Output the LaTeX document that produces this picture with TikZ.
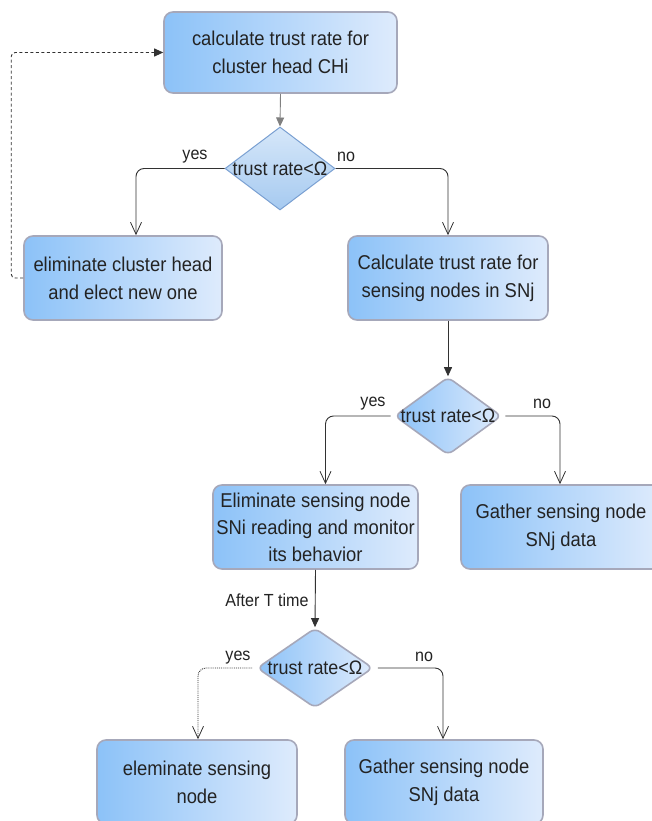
\documentclass[tikz,border=0pt]{standalone}
\usepackage{fontspec}
\setmainfont{Liberation Sans}[FakeStretch=0.92]
\usetikzlibrary{shapes.geometric,arrows.meta}

\definecolor{boxL}{RGB}{140,194,248}
\definecolor{boxR}{RGB}{222,235,252}
\definecolor{boxEdge}{RGB}{166,168,186}
\definecolor{dTop}{RGB}{214,231,249}
\definecolor{dBot}{RGB}{166,202,240}
\definecolor{dEdge}{RGB}{122,160,210}
\definecolor{lineC}{RGB}{50,50,50}
\definecolor{txtC}{RGB}{35,35,35}

\tikzset{
  stepbox/.style={rectangle, rounded corners=9pt, draw=boxEdge, line width=1.6pt,
    left color=boxL, right color=boxR, minimum width=199pt, minimum height=83pt,
    align=center, text=txtC, font=\fontsize{20}{28}\selectfont},
  decisionA/.style={diamond, draw=dEdge, line width=1pt, top color=dTop, bottom color=dBot,
    inner sep=0pt, minimum width=110pt, minimum height=83pt},
  decisionB/.style={diamond, rounded corners=6pt, draw=boxEdge, line width=1.6pt,
    left color=boxL, right color=boxR, inner sep=0pt},
  dtext/.style={text=txtC, font=\fontsize{19.5}{20}\selectfont},
  tag/.style={text=txtC, font=\fontsize{17.5}{18}\selectfont, inner sep=1pt},
  flow/.style={draw=lineC, line width=0.9pt},
  solidtip/.style={-{Triangle[length=9pt,width=8pt]}},
  opentip/.style={-{Straight Barb[length=12pt,width=11pt,line width=0.8pt]}, rounded corners=8pt},
}

\begin{document}
\begin{tikzpicture}[x=1pt,y=-1pt]
  \useasboundingbox (0,0) rectangle (652,821);
  \clip (0,0) rectangle (652,821);
  \fill[white] (0,0) rectangle (652,821);

  % process boxes
  \node[stepbox, minimum width=233pt, minimum height=81pt] (b1) at (280.5,52.5)
    {calculate trust rate for\\cluster head CHi};
  \node[stepbox, minimum width=198pt, minimum height=84pt] (b2) at (123,278)
    {eliminate cluster head\\and elect new one};
  \node[stepbox, minimum width=200pt, minimum height=84pt] (b3) at (448,278)
    {Calculate trust rate for\\sensing nodes in SNj};
  \node[stepbox, minimum height=84pt, font=\fontsize{20}{27}\selectfont] (b4) at (315.5,527)
    {Eliminate sensing node\\SNi reading and monitor\\its behavior};
  \node[stepbox, minimum width=200pt, minimum height=84pt] (b5) at (561,527)
    {Gather sensing node\\SNj data};
  \node[stepbox, minimum width=200pt, minimum height=84pt] (b6) at (197,782)
    {eleminate sensing\\node};
  \node[stepbox, minimum width=198pt, minimum height=84pt] (b7) at (444,782)
    {Gather sensing node\\SNj data};

  % decisions
  \node[decisionA, label={[dtext]center:trust rate<Ω}] (d1) at (280,168.5) {};
  \node[decisionB, minimum width=107pt, minimum height=78pt,
        label={[dtext]center:trust rate<Ω}] (d2) at (448,416) {};
  \node[decisionB, minimum width=116pt, minimum height=80pt,
        label={[dtext]center:trust rate<Ω}] (d3) at (315,668) {};

  % straight connectors
  \draw[flow, solidtip, draw=gray] (b1.south) -- (d1.north);
  \draw[flow, solidtip] (b3.south) -- (d2.north);
  \draw[flow, solidtip] (b4.south) -- (d3.north);

  % branches of the first decision
  \draw[flow, opentip] (d1.west) -| ([xshift=13pt]b2.north);
  \draw[flow, opentip] (d1.east) -| (b3.north);
  \node[tag] (y1) at (195,157) {yes};
  \node[tag] (n1) at (346,157) {no};

  % branches of the second decision
  \draw[flow, opentip] ([xshift=-3pt]d2.west) -| ([xshift=10pt]b4.north);
  \draw[flow, opentip] ([xshift=3pt]d2.east) -| ([xshift=-1pt]b5.north);
  \node[tag] (y2) at (373,404) {yes};
  \node[tag] (n2) at (542,404) {no};

  % branches of the third decision
  \draw[flow, opentip, densely dotted] ([xshift=-4pt]d3.west) -| ([xshift=1pt]b6.north);
  \draw[flow, opentip] ([xshift=4pt]d3.east) -| ([xshift=-1pt]b7.north);
  \node[tag] (y3) at (238,658) {yes};
  \node[tag] (n3) at (424,657) {no};
  \node[tag] (wait) at (267,600) {After T time};

  % return loop after electing a new head
  \draw[flow, dashed, dash pattern=on 3pt off 2.5pt, rounded corners=4pt,
        -{Triangle[length=9pt,width=8pt]}]
    (b2.west) -- ++(-12,0) |- (b1.west);
\end{tikzpicture}
\end{document}
